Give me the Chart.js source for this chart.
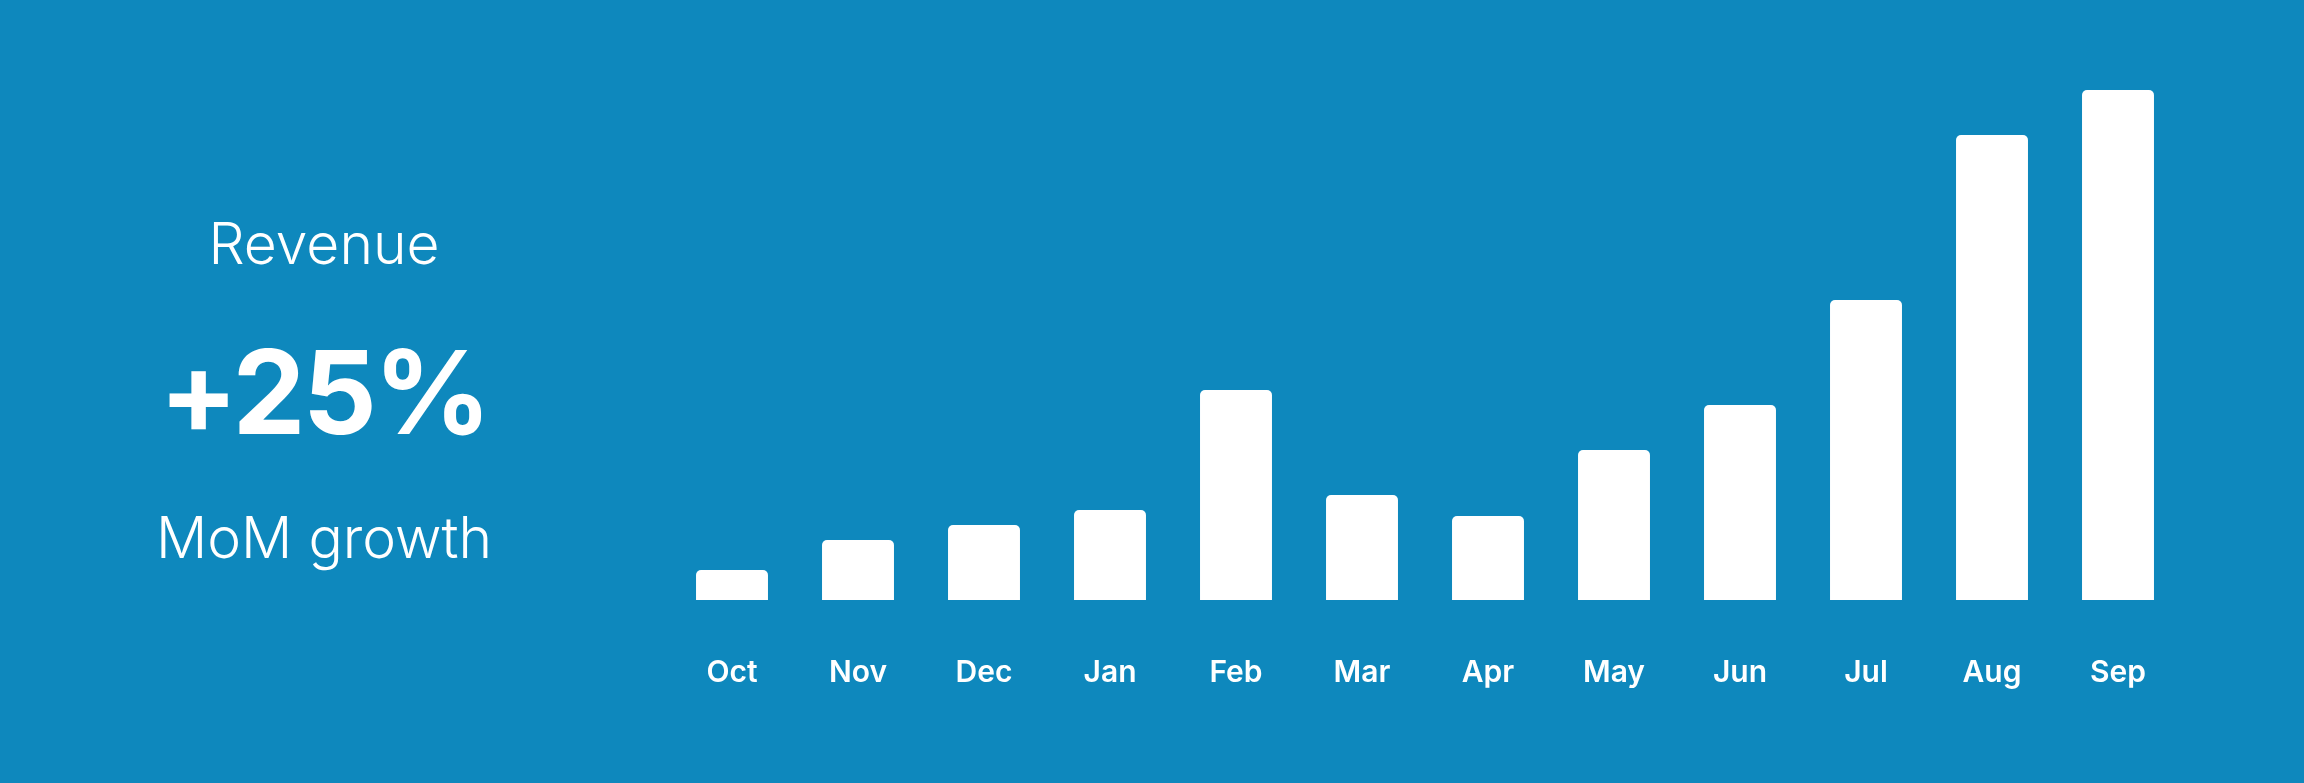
<!DOCTYPE html>
<html>
<head>
<meta charset="utf-8">
<script src="https://cdn.jsdelivr.net/npm/chart.js@4"></script>
<style>
  html, body { margin: 0; padding: 0; }
  body {
    width: 2304px;
    height: 783px;
    background: #0e88bd;
    position: relative;
    overflow: hidden;
    font-family: Inter, "Noto Sans", sans-serif;
    color: #fff;
  }
  #kpi {
    position: absolute;
    left: 124px;
    width: 400px;
    top: 0;
    text-align: center;
  }
  #kpi .label { position: absolute; width: 400px; font-weight: 300; font-size: 57px; line-height: 1; }
  #kpi .big { position: absolute; width: 400px; font-weight: 700; font-size: 116px; line-height: 1; letter-spacing: -3px; }
  #chart-wrap { position: absolute; left: 0; top: 0; width: 2304px; height: 783px; }
</style>
</head>
<body>
<div id="kpi">
  <div class="label" style="top:215px">Revenue</div>
  <div class="big" style="top:334px">+25%</div>
  <div class="label" style="top:509px">MoM growth</div>
</div>
<div id="chart-wrap"><canvas id="revenueChart"></canvas></div>
<script>
// Monate und Umsatz (relative Werte aus dem Bild geschätzt)
const months = ['Oct', 'Nov', 'Dec', 'Jan', 'Feb', 'Mar', 'Apr', 'May', 'Jun', 'Jul', 'Aug', 'Sep'];
const revenue = [10, 20, 25, 30, 70, 35, 28, 50, 65, 100, 155, 170];
const yMax = 180;

const ctx = document.getElementById('revenueChart').getContext('2d');
new Chart(ctx, {
  type: 'bar',
  data: {
    labels: months,
    datasets: [{
      label: 'Revenue',
      data: revenue,
      backgroundColor: '#ffffff',
      borderRadius: { topLeft: 5, topRight: 5 },
      borderSkipped: 'bottom',
      barPercentage: 0.571,
      categoryPercentage: 1
    }]
  },
  options: {
    responsive: true,
    maintainAspectRatio: false,
    animation: false,
    layout: {
      padding: { left: 669, right: 123, top: 60, bottom: 37 }
    },
    plugins: {
      legend: { display: false },
      tooltip: { enabled: false }
    },
    scales: {
      x: {
        grid: { display: false, drawTicks: false },
        border: { display: false },
        ticks: {
          color: '#ffffff',
          padding: 55,
          font: { family: 'Inter', size: 30, weight: '600' }
        }
      },
      y: {
        display: false,
        min: 0,
        max: yMax
      }
    }
  }
});
</script>
</body>
</html>
